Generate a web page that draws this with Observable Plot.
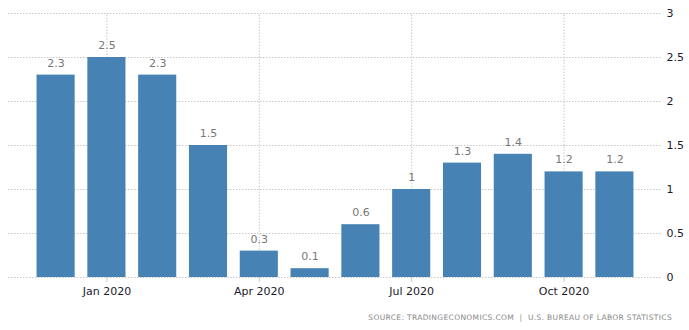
<!DOCTYPE html>
<html>
<head>
<meta charset="utf-8">
<script src="https://cdn.jsdelivr.net/npm/d3@7"></script>
<script src="https://cdn.jsdelivr.net/npm/@observablehq/plot@0.6"></script>
<style>
  html, body { margin: 0; padding: 0; background: #fff; }
  #chart { width: 689px; height: 330px; position: relative; }
  #caption {
    position: absolute; right: 17px; top: 313px;
    font-family: "DejaVu Sans", sans-serif; font-size: 7.5px;
    letter-spacing: 0.35px; color: #888; white-space: nowrap;
  }
</style>
</head>
<body>
<div id="chart"><div id="caption">SOURCE: TRADINGECONOMICS.COM&nbsp; | &nbsp;U.S. BUREAU OF LABOR STATISTICS</div></div>
<script>
const months = ["Dec 2019","Jan 2020","Feb 2020","Mar 2020","Apr 2020","May 2020","Jun 2020","Jul 2020","Aug 2020","Sep 2020","Oct 2020","Nov 2020"];
const values = [2.3, 2.5, 2.3, 1.5, 0.3, 0.1, 0.6, 1.0, 1.3, 1.4, 1.2, 1.2];
const xTicks = ["Jan 2020","Apr 2020","Jul 2020","Oct 2020"];
const yTicks = [0, 0.5, 1, 1.5, 2, 2.5, 3];

const data = months.map((m, i) => ({month: m, value: values[i]}));
const font = "'DejaVu Sans', sans-serif";

const plot = Plot.plot({
  width: 689,
  height: 305,
  marginLeft: 8,
  marginRight: 27,
  marginTop: 13,
  marginBottom: 28,
  style: {fontFamily: font, fontSize: "11px", background: "#fff"},
  x: {type: "band", domain: months, paddingInner: 0.25, paddingOuter: 0.562, round: false, label: null},
  y: {domain: [0, 3], label: null},
  marks: [
    Plot.ruleY(yTicks, {stroke: "#c8c8c8", strokeDasharray: "1.5,1.5", strokeWidth: 1}),
    Plot.ruleX(xTicks, {stroke: "#c8c8c8", strokeDasharray: "1.5,1.5", strokeWidth: 1, y1: 0, y2: 3}),
    Plot.barY(data, {x: "month", y: "value", fill: "#4682b4"}),
    Plot.text(data, {x: "month", y: "value", text: d => String(d.value), dy: -12, fill: "#777", fontSize: 11}),
    Plot.axisX(xTicks, {tickSize: 5, stroke: "#c8c8c8", tickPadding: 5, fill: "#1a1a2a", fontSize: 11, label: null}),
    Plot.axisY(yTicks, {anchor: "right", tickSize: 0, tickPadding: 4, fill: "#1a1a2a", fontSize: 11, label: null, tickFormat: d => String(d)})
  ]
});
document.getElementById("chart").prepend(plot);
</script>
</body>
</html>
